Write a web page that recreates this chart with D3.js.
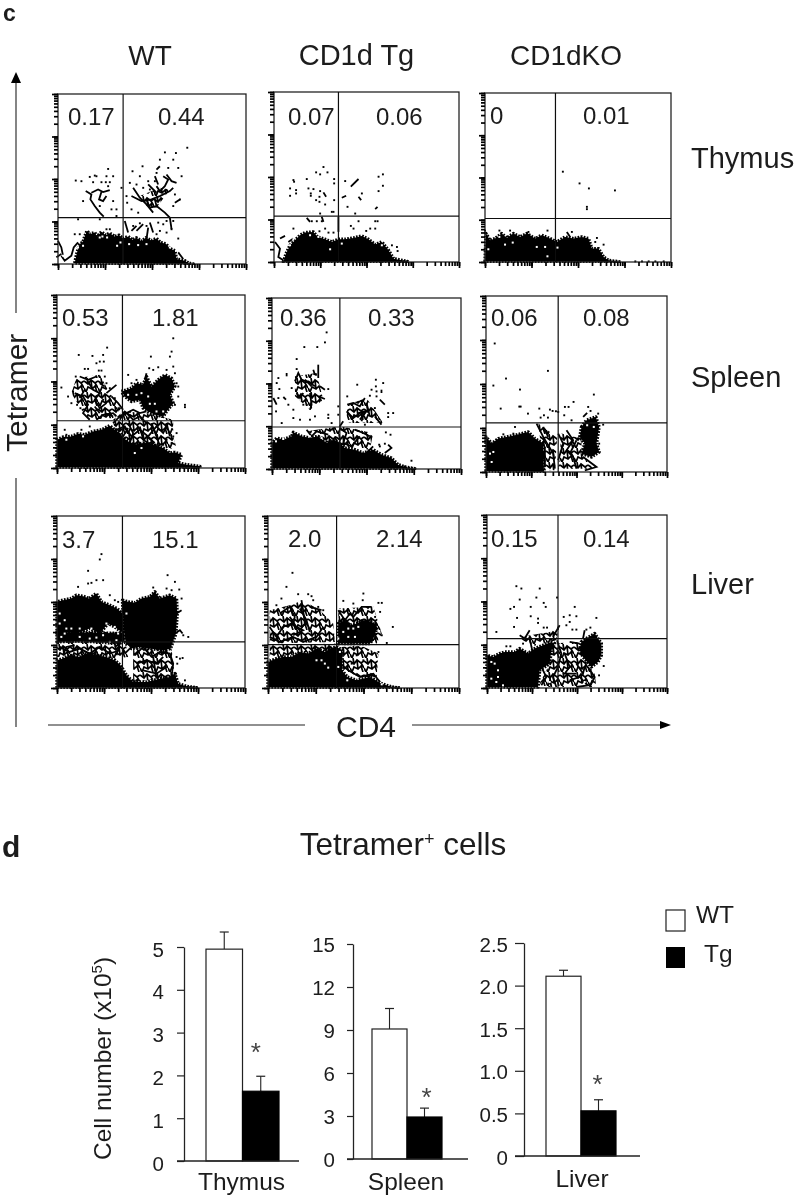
<!DOCTYPE html>
<html><head><meta charset="utf-8">
<script src="https://cdn.jsdelivr.net/npm/d3@7"></script>
<style>html,body{margin:0;padding:0;background:#fff}svg{display:block}text{font-family:"Liberation Sans",Arial,sans-serif;fill:#1c1c1c}</style>
</head><body><div id="c"></div>
<script>
const columns=["WT","CD1d Tg","CD1dKO"], organs=["Thymus","Spleen","Liver"];
const gateValues=[["0.17","0.44"],["0.07","0.06"],["0","0.01"],["0.53","1.81"],["0.36","0.33"],["0.06","0.08"],["3.7","15.1"],["2.0","2.14"],["0.15","0.14"]];

// Flow-cytometry populations, as channel readings (x, y) on each plot's digitising grid.
const wtThymusBlobs=[[[225,792],[232,760],[240,735],[250,728],[255,712],[262,695],[270,705],[285,700],[292,712],[305,698],[318,708],[330,702],[345,712],[358,708],[370,718],[385,712],[398,722],[410,716],[425,726],[438,716],[455,724],[470,718],[482,730],[498,734],[510,748],[525,755],[530,780],[555,785],[565,792],[580,795]]];
const wtThymusLace=[[[420,590],[480,565],[510,570],[470,625],[440,620]]];
const wtThymusSpecks=[[352,740],[362,730],[388,735],[322,715],[308,712],[235,745],[510,745],[415,738],[250,740],[190,770],[440,735],[300,715]];
const wtThymusStrokes=[[[258,575],[275,585],[272,600],[285,620],[300,640],[312,652]],[[275,580],[295,570],[310,578],[330,572]],[[305,578],[298,600],[310,605],[320,590]],[[400,565],[420,595],[440,615],[460,640]],[[395,590],[425,605],[455,600],[480,590],[510,575],[520,565]],[[440,600],[450,625],[470,620],[465,600]],[[470,560],[480,575],[495,560],[505,540],[490,530]],[[500,525],[515,545],[530,550]],[[470,510],[480,500]],[[475,555],[465,530]],[[525,610],[540,600]],[[470,620],[495,640],[510,655]],[[445,555],[470,580]],[[395,695],[410,680]],[[410,695],[430,675]],[[450,670],[460,700]],[[375,665],[385,700]],[[445,685],[440,720]],[[510,655],[515,690]],[[175,725],[185,745],[190,770]],[[185,770],[195,785],[215,770],[222,745],[235,730]],[[170,775],[185,765]],[[535,760],[550,780]]];
const wtThymusDots=[[228,543],[245,545],[270,532],[285,528],[290,530],[325,508],[320,530],[340,530],[280,548],[305,548],[318,548],[330,548],[325,560],[250,605],[340,605],[335,630],[350,630],[300,620],[350,650],[562,444],[528,460],[495,458],[520,480],[480,480],[428,500],[398,515],[470,520],[535,505],[505,505],[420,530],[445,545],[465,545],[390,550],[410,555],[380,590],[382,610],[395,630],[415,640],[365,565],[450,570],[430,565],[540,600],[520,620],[525,585],[545,530],[235,660],[300,660],[320,690],[330,690],[225,705],[240,705],[500,665],[520,665],[475,670],[490,675],[515,690],[480,695],[500,700],[535,718],[420,672],[440,680],[400,680],[470,705]];

const wtSpleenBlobs=[[[172,562],[172,480],[190,472],[215,470],[235,462],[255,465],[280,455],[305,450],[330,438],[345,450],[360,460],[375,478],[400,495],[430,490],[460,495],[490,505],[510,520],[525,518],[545,525],[535,550],[560,555],[600,560],[600,565]],[[365,335],[395,325],[410,310],[430,315],[440,290],[455,320],[475,300],[495,285],[515,295],[525,320],[510,345],[520,370],[500,395],[490,410],[465,405],[445,395],[430,385],[420,360],[395,365],[375,350]]];
const wtSpleenLace=[[[230,295],[300,285],[330,340],[365,385],[340,415],[270,420],[245,390],[215,340]],[[340,420],[370,395],[440,400],[520,420],[520,470],[530,505],[480,510],[400,510],[370,480],[345,460]]];
const wtSpleenSpecks=[[385,345],[410,345],[425,340],[450,372],[465,372],[470,395],[490,395],[445,350],[405,520],[425,505],[200,480],[250,470]];
const wtSpleenStrokes=[[[340,430],[360,410],[380,400],[400,420],[420,410],[440,430]],[[350,450],[375,440],[395,470],[420,450],[445,470],[470,440],[490,460],[505,430]],[[385,430],[400,460],[390,490]],[[420,440],[430,480],[460,500]],[[370,470],[385,445]],[[455,430],[470,470],[480,500]],[[500,430],[510,470]],[[350,410],[340,400],[310,405],[290,420]],[[440,470],[465,490]],[[240,290],[265,300],[290,290]],[[225,340],[250,350],[265,375],[250,400],[270,420]],[[265,305],[280,330],[300,340],[285,360],[300,385],[320,370]],[[255,330],[240,355]],[[320,340],[350,315]],[[335,350],[355,370],[370,390]],[[300,310],[315,320]],[[285,380],[300,400]],[[315,400],[340,410]],[[380,400],[400,390],[420,400],[440,395]],[[360,420],[375,395],[395,410]],[[440,280],[435,300]]];
const wtSpleenDots=[[237,225],[322,203],[278,228],[300,245],[312,245],[255,267],[265,267],[297,272],[305,272],[228,290],[315,290],[185,323],[205,350],[220,335],[215,370],[232,375],[242,385],[320,310],[330,325],[345,355],[325,365],[310,360],[350,385],[290,250],[310,225],[520,175],[515,215],[510,230],[453,230],[448,265],[460,270],[475,262],[500,270],[525,280],[385,285],[410,300],[395,310],[535,350],[555,375],[555,382],[525,375],[530,310],[535,320],[520,260],[500,480],[520,470],[530,460],[515,490],[490,495],[200,465],[245,450],[270,440],[195,450]];

const wtLiverBlobs=[[[172,562],[172,480],[190,475],[210,465],[240,470],[260,460],[290,465],[320,470],[345,480],[362,495],[380,525],[400,545],[440,545],[480,535],[510,530],[525,520],[535,550],[560,558],[590,562]],[[172,400],[172,305],[190,300],[215,295],[230,285],[250,288],[268,295],[290,280],[305,305],[330,315],[352,325],[368,340],[372,400],[345,380],[325,370],[300,400],[270,385],[240,395],[205,395]],[[368,300],[385,305],[405,308],[425,295],[450,290],[465,275],[480,295],[495,290],[510,285],[530,295],[532,340],[528,400],[512,445],[490,450],[450,445],[420,440],[395,445],[378,430],[372,380]],[[172,425],[220,422],[300,425],[360,432],[372,400],[172,395]]];
const wtLiverLace=[[[172,395],[372,395],[385,470],[345,475],[172,470]],[[400,445],[515,445],[525,530],[400,545]]];
const wtLiverSpecks=[[180,340],[195,360],[180,370],[200,385],[215,385],[240,385],[275,385],[320,370],[345,380],[380,340],[355,400],[385,440],[310,405],[290,412],[270,415],[240,410],[185,410],[195,400],[330,425],[350,420]];
const wtLiverStrokes=[[[180,440],[210,455],[240,445],[270,460],[300,440],[330,460],[360,450]],[[190,465],[200,440],[225,435]],[[405,465],[430,440],[455,470],[480,455],[510,460],[520,490],[515,530]],[[410,490],[440,480],[470,490],[490,470]],[[430,510],[470,520],[500,500]],[[460,470],[470,535]],[[530,340],[545,330]],[[525,400],[540,390],[548,400]],[[375,460],[395,440]],[[345,440],[360,430],[350,465]]];
const wtLiverDots=[[305,162],[300,178],[265,212],[235,260],[265,250],[290,240],[310,240],[275,248],[330,285],[345,300],[355,305],[460,262],[500,265],[515,270],[545,295],[538,268],[525,245],[503,225],[565,410],[550,405],[530,470],[548,473],[540,475],[532,490],[528,520],[410,540],[440,550],[555,540]];

const tgThymusBlobs=[[[70,530],[78,505],[90,480],[105,465],[120,450],[135,442],[160,440],[172,455],[195,462],[215,470],[235,462],[255,462],[280,458],[305,452],[325,462],[345,478],[365,470],[385,495],[400,520],[440,528],[445,532]]];
const tgThymusLace=[];
const tgThymusSpecks=[[100,462],[150,450],[175,455],[365,480],[210,492],[245,475],[90,480]];
const tgThymusStrokes=[[[60,460],[75,452]],[[45,470],[60,490],[55,515],[70,525]],[[85,470],[100,460]],[[272,305],[295,282]],[[245,338],[258,332]],[[295,335],[303,345]],[[345,372],[352,365]],[[190,322],[198,335]],[[140,398],[150,410]],[[185,395],[190,410]],[[235,395],[235,440]]];
const tgThymusDots=[[190,246],[168,262],[180,268],[202,262],[140,282],[222,282],[222,295],[100,285],[102,290],[90,310],[145,310],[160,312],[108,315],[108,325],[90,332],[152,325],[152,332],[180,318],[178,335],[168,345],[178,350],[195,358],[222,345],[215,380],[220,380],[180,385],[255,288],[368,268],[355,275],[368,302],[355,318],[305,325],[262,365],[285,385],[295,408],[280,430],[345,408],[352,408],[345,430],[330,430],[318,437],[272,422],[155,408],[170,408],[185,408],[195,430],[205,442],[220,442],[100,430],[410,485],[395,480],[412,497],[178,438]];

const tgSpleenBlobs=[[[36,535],[36,460],[50,445],[70,450],[95,440],[100,428],[125,440],[150,445],[175,440],[200,460],[220,450],[240,460],[255,475],[285,480],[310,490],[340,480],[365,495],[395,505],[415,525],[440,533],[465,537]]];
const tgSpleenLace=[[[105,260],[170,250],[190,330],[150,360],[105,320]],[[262,345],[320,325],[370,400],[260,400]],[[140,425],[240,410],[340,430],[330,480],[230,470]]];
const tgSpleenSpecks=[[48,455],[70,448],[150,440],[185,445]];
const tgSpleenStrokes=[[[105,275],[115,250],[125,270],[150,280],[165,290]],[[135,270],[155,290]],[[110,310],[120,325],[130,310]],[[150,310],[155,345],[150,360]],[[175,320],[195,328]],[[160,240],[165,255]],[[175,225],[175,265]],[[180,290],[195,300]],[[80,250],[80,260]],[[70,322],[78,330]],[[40,325],[50,345]],[[262,345],[280,340],[300,350],[315,325]],[[260,365],[280,385],[300,370],[320,365],[300,390]],[[345,380],[365,405]],[[360,330],[375,345]],[[320,340],[330,380]],[[250,395],[240,410]],[[295,370],[315,365],[305,395]],[[365,300],[365,310]],[[240,415],[260,430],[250,460],[275,470],[300,440]],[[140,420],[155,440],[170,425],[205,435]],[[285,420],[310,430],[330,440]],[[340,470],[320,490]],[[385,465],[395,475],[375,490]],[[225,440],[240,480]]];
const tgSpleenDots=[[200,128],[195,158],[133,172],[172,172],[110,208],[110,238],[55,265],[50,280],[95,295],[205,298],[58,298],[55,325],[85,345],[100,360],[130,345],[140,345],[100,385],[120,390],[65,400],[48,365],[165,380],[205,375],[205,385],[215,400],[150,390],[292,285],[348,270],[370,280],[348,290],[335,300],[350,305],[330,318],[350,320],[262,320],[345,355],[385,370],[400,370],[385,382],[235,350],[235,375],[270,378],[315,405],[378,428],[392,435],[358,465],[295,490],[228,478],[360,470],[375,462],[455,513],[435,530],[220,420]];

const tgLiverBlobs=[[[25,530],[25,455],[50,445],[70,440],[95,440],[120,425],[145,430],[170,415],[195,425],[210,415],[230,410],[248,420],[246,480],[262,500],[290,510],[330,500],[365,520],[395,530],[420,535]],[[235,340],[255,330],[270,345],[290,340],[310,330],[335,335],[350,350],[345,375],[330,400],[300,400],[270,400],[235,400]]];
const tgLiverLace=[[[30,300],[90,285],[130,270],[180,300],[220,340],[225,395],[30,400]],[[235,295],[340,290],[365,370],[350,400],[235,400]],[[30,405],[240,400],[220,430],[130,425],[30,450]],[[245,410],[300,405],[355,430],[350,500],[300,500],[250,480]]];
const tgLiverSpecks=[[250,365],[265,355],[280,355],[295,350],[285,380],[265,380],[235,385],[245,405],[240,425],[290,405],[170,450],[185,450],[195,460],[205,472],[235,470],[262,510],[365,522]];
const tgLiverStrokes=[[[30,350],[50,380],[70,350],[95,340],[120,360],[135,340],[130,300],[125,270]],[[60,310],[90,290],[105,320],[100,345]],[[120,295],[140,330],[150,365]],[[30,380],[60,395],[100,380],[130,395],[170,380],[190,350]],[[150,290],[185,300]],[[235,300],[255,330],[270,310],[280,320],[305,290],[335,290]],[[240,460],[265,480],[300,500],[340,490],[360,515]],[[90,320],[110,350],[130,360],[100,375]]];
const tgLiverDots=[[98,188],[80,230],[115,252],[145,252],[155,258],[160,270],[65,265],[50,285],[310,250],[308,270],[250,272],[280,280],[355,278],[365,278],[398,350],[360,305],[345,320],[365,375],[380,398],[355,425],[310,450],[275,460],[290,435],[175,290],[190,300]];

const koThymusBlobs=[[[45,528],[48,445],[60,465],[75,460],[95,445],[110,458],[130,445],[150,455],[170,445],[195,460],[215,450],[240,460],[260,470],[285,455],[310,460],[335,455],[355,460],[365,490],[385,490],[400,515],[415,525],[450,530],[452,533]]];
const koThymusLace=[];
const koThymusSpecks=[[55,492],[105,478],[128,472],[200,485],[225,485],[232,513],[262,487],[88,455]];
const koThymusStrokes=[[[290,440],[300,455]],[[170,445],[185,458]]];
const koThymusDots=[[278,260],[328,295],[356,310],[434,316],[350,365],[350,372],[88,436],[120,436],[175,440],[232,436],[380,458],[400,478],[375,470],[305,440],[495,528],[515,528],[535,528],[555,528],[580,528],[45,436]];

const koSpleenBlobs=[[[48,572],[48,470],[65,490],[85,475],[110,470],[135,465],[155,460],[175,455],[195,475],[220,490],[222,575]],[[335,440],[350,420],[378,410],[388,440],[380,490],[388,515],[365,530],[335,520],[345,490],[330,470]]];
const koSpleenLace=[[[205,430],[262,470],[255,570],[222,570]],[[275,460],[335,475],[335,520],[370,565],[265,565]]];
const koSpleenSpecks=[[352,435],[372,440],[60,520],[70,515],[65,545]];
const koSpleenStrokes=[[[48,480],[60,510],[55,540],[70,570]],[[200,430],[220,470],[250,520],[255,565]],[[220,440],[235,470]],[[290,450],[310,480],[290,510],[310,530],[320,565]],[[320,480],[300,520]],[[225,500],[225,560]],[[340,530],[380,560],[345,570]],[[265,460],[280,490],[265,540]],[[340,410],[352,398]]];
const koSpleenDots=[[74,190],[234,272],[108,295],[70,316],[150,328],[372,343],[92,385],[148,379],[152,379],[208,385],[174,400],[240,388],[248,392],[258,393],[265,395],[285,380],[296,380],[311,365],[355,380],[362,392],[385,400],[283,405],[305,420],[212,412],[222,405],[234,412],[135,440],[100,462],[130,460],[400,433],[388,490]];

const koLiverBlobs=[[[52,530],[52,435],[70,440],[90,430],[105,425],[135,425],[150,415],[175,430],[195,415],[220,405],[245,395],[255,400],[245,420],[240,460],[210,480],[205,530]],[[335,395],[350,385],[375,370],[395,400],[395,435],[385,455],[365,470],[340,440],[330,420]]];
const koLiverLace=[[[240,400],[330,395],[340,440],[375,490],[380,530],[205,530],[240,460]],[[150,380],[240,365],[270,345],[260,390],[180,410]]];
const koLiverSpecks=[[65,455],[75,460],[85,480],[85,500],[65,505],[80,515],[100,525],[240,515],[345,515]];
const koLiverStrokes=[[[262,390],[275,430],[265,470],[250,500],[260,530]],[[285,430],[300,470],[285,490],[320,490]],[[300,510],[330,500],[355,525],[320,530]],[[320,460],[340,490],[345,470]],[[215,470],[230,500],[215,525]],[[240,500],[245,530]],[[355,470],[375,500],[360,530]],[[180,385],[190,430]],[[150,375],[165,385],[180,360]],[[250,380],[270,345]],[[340,385],[345,360]],[[300,395],[330,400]]];
const koLiverDots=[[140,228],[155,235],[210,235],[150,268],[200,262],[222,278],[262,262],[228,290],[183,290],[133,290],[122,296],[315,290],[142,323],[183,318],[205,325],[205,338],[133,350],[222,352],[232,352],[80,365],[282,320],[300,315],[320,318],[380,323],[300,335],[290,345],[308,358],[320,358],[350,358],[362,352],[402,467],[388,495],[110,408],[122,408],[160,400]];

const populations=[
 [wtThymusBlobs,wtThymusSpecks,wtThymusStrokes,wtThymusDots,wtThymusLace],[tgThymusBlobs,tgThymusSpecks,tgThymusStrokes,tgThymusDots,tgThymusLace],[koThymusBlobs,koThymusSpecks,koThymusStrokes,koThymusDots,koThymusLace],
 [wtSpleenBlobs,wtSpleenSpecks,wtSpleenStrokes,wtSpleenDots,wtSpleenLace],[tgSpleenBlobs,tgSpleenSpecks,tgSpleenStrokes,tgSpleenDots,tgSpleenLace],[koSpleenBlobs,koSpleenSpecks,koSpleenStrokes,koSpleenDots,koSpleenLace],
 [wtLiverBlobs,wtLiverSpecks,wtLiverStrokes,wtLiverDots,wtLiverLace],[tgLiverBlobs,tgLiverSpecks,tgLiverStrokes,tgLiverDots,tgLiverLace],[koLiverBlobs,koLiverSpecks,koLiverStrokes,koLiverDots,koLiverLace]];
// digitising-grid limits and gates for each plot: left,right,bottom,top,gateX,gateY
const gridLimits=[[175,738,795,282,370,655],[42,596,530,22,235,393],[45,602,530,25,256,400],[172,735,565,45,368,423],[36,604,538,25,240,412],[48,592,575,48,265,428],[172,735,563,48,368,425],[25,596,533,18,230,403],[52,592,533,15,265,385]];

// Bar chart values
const barOrgans=["Thymus","Spleen","Liver"], barGroups=["WT","Tg"];
const barWT=[4.95,9.07,2.11], barTg=[1.63,2.93,0.53];
const errWT=[5.35,10.5,2.18], errTg=[1.98,3.55,0.66];
const starValue=[2.59,4.47,0.87];
const barMax=[5,15,2.5];
const barTicks=[[0,1,2,3,4,5],[0,3,6,9,12,15],[0,0.5,1,1.5,2,2.5]];
const barTickLabels=[["0","1","2","3","4","5"],["0","3","6","9","12","15"],["0","0.5","1.0","1.5","2.0","2.5"]];

// layout
const W=797,H=1199;
const frames=[[58,246,264,94],[274,459,262,92],[485,671,262,93],[57,245,468,295],[272,461,469,298],[486,667,472,296],[57,245,688,516],[268,459,688,516],[487,667,688,515]];
const gateLabelAt=[[68,158,125],[288,376,125],[490,583,124],[62,152,326],[280,368,326],[491,583,326],[62,152,548],[288,376,547],[491,583,547]];
const barFrames=[{x0:184,y0:1161,yT:947,bL:206,bR:279,end:299,tick:7,pad:13,cx:241.5,ldy:2.5,sx:-5,by:1190},{x0:353,y0:1159,yT:944,bL:372,bR:442,end:468,tick:6,pad:12,cx:406,ldy:0.5,sx:2,by:1190},{x0:524,y0:1156,yT:943,bL:546,bR:616,end:640,tick:9,pad:7,cx:582,ldy:1.5,sx:-1,by:1187}];

const svg=d3.select("#c").append("svg").attr("width",W).attr("height",H).attr("viewBox",[0,0,W,H]);
svg.append("rect").attr("width",W).attr("height",H).attr("fill","#fff");
const defs=svg.append("defs");
const soft=defs.append("filter").attr("id","soft").attr("x","-5%").attr("y","-5%").attr("width","110%").attr("height","110%");
soft.append("feGaussianBlur").attr("stdDeviation",0.35);
const pat=defs.append("pattern").attr("id","lace").attr("patternUnits","userSpaceOnUse").attr("width",14).attr("height",14);
pat.append("path").attr("d","M0 3L4 6L7 2L11 5L14 3M2 14L4 9L8 11L11 8L13 14M7 2L8 11M0 10L2 14M11 5L14 10M4 6L3 0").attr("fill","none").attr("stroke","#000").attr("stroke-width",1.7);
const root=svg.append("g").attr("filter","url(#soft)");
const txt=(x,y,s,size,o={})=>{const t=root.append("text").attr("x",x).attr("y",y).attr("font-size",size).attr("text-anchor",o.anchor||"start").attr("font-weight",o.weight||null).text(s);if(o.rotate)t.attr("transform",`rotate(-90 ${x} ${y})`);return t;};

// Panel letters and headers
txt(3,21,"c",23,{weight:"bold"}); txt(2,857,"d",30,{weight:"bold"});
[[150,columns[0],28],[356.5,columns[1],29],[566,columns[2],28]].forEach(([x,s,z])=>txt(x,65,s,z,{anchor:"middle"}));
[[168,organs[0]],[387,organs[1]],[594,organs[2]]].forEach(([y,s])=>txt(691,y,s,29));

// Dot plots
const minorTicks=d3.range(0,4).flatMap(k=>d3.range(1,10).map(m=>m*Math.pow(10,k))).concat([10000]);
const majorTicks=[1,10,100,1000,10000];
frames.forEach((f,i)=>{
 const [L,R,B,T,gx,gy]=gridLimits[i], [left,right,bottom,top]=f;
 const x=d3.scaleLinear().domain([L,R]).range([left,right]);
 const y=d3.scaleLinear().domain([B,T]).range([bottom,top]);
 const [blobs,specks,strokes,dots,laces]=populations[i];
 const g=root.append("g");
 const line=d3.line().x(d=>x(d[0])).y(d=>y(Math.min(d[1],B)));
 g.selectAll(".l").data(laces).join("path").attr("d",d=>line(d)+"Z").attr("fill","url(#lace)");
 g.selectAll(".b").data(blobs).join("path").attr("d",d=>line(d)+"Z").attr("fill","#000").attr("stroke","#000").attr("stroke-width",3.4).attr("stroke-dasharray","1.7 1.3").attr("stroke-linejoin","round");
 g.selectAll(".st").data(strokes).join("path").attr("d",line).attr("fill","none").attr("stroke","#000").attr("stroke-width",1.8);
 g.selectAll(".sp").data(specks).join("rect").attr("x",d=>x(d[0])-1).attr("y",d=>y(d[1])-1).attr("width",2).attr("height",2).attr("fill","#fff");
 g.selectAll(".d").data(dots).join("rect").attr("x",d=>x(d[0])-.9).attr("y",d=>y(d[1])-.9).attr("width",1.9).attr("height",1.9).attr("fill","#000");
 // mask anything under the plot's base, then frame and gates
 g.append("rect").attr("x",left-1).attr("y",bottom+1).attr("width",right-left+6).attr("height",4).attr("fill","#fff");
 g.append("rect").attr("x",left).attr("y",top).attr("width",right-left).attr("height",bottom-top).attr("fill","none").attr("stroke","#222").attr("stroke-width",1.3);
 g.append("line").attr("x1",x(gx)).attr("x2",x(gx)).attr("y1",top).attr("y2",bottom).attr("stroke","#111").attr("stroke-width",1.2);
 g.append("line").attr("x1",left).attr("x2",right).attr("y1",y(gy)).attr("y2",y(gy)).attr("stroke","#111").attr("stroke-width",1.2);
 // log axes
 const lx=d3.scaleLog().domain([1,10000]).range([left,right]);
 const ly=d3.scaleLog().domain([1,10000]).range([bottom,top]);
 const style=a=>{a.select(".domain").remove();a.selectAll("text").remove();a.selectAll("line").attr("stroke","#000").attr("stroke-width",1.7);};
 g.append("g").attr("transform",`translate(${left},0)`).call(d3.axisLeft(ly).tickValues(minorTicks).tickSize(4).tickFormat("")).call(style);
 g.append("g").attr("transform",`translate(${left},0)`).call(d3.axisLeft(ly).tickValues(majorTicks).tickSize(6).tickFormat("")).call(style);
 g.append("g").attr("transform",`translate(0,${bottom})`).call(d3.axisBottom(lx).tickValues(minorTicks).tickSize(4).tickFormat("")).call(style);
 g.append("g").attr("transform",`translate(0,${bottom})`).call(d3.axisBottom(lx).tickValues(majorTicks).tickSize(6).tickFormat("")).call(style);
 const a=gateLabelAt[i];
 txt(a[0],a[2],gateValues[i][0],24); txt(a[1],a[2],gateValues[i][1],24);
});

// Axis arrows
const ink="#222";
const seg=(x1,y1,x2,y2)=>root.append("line").attr("x1",x1).attr("y1",y1).attr("x2",x2).attr("y2",y2).attr("stroke",ink).attr("stroke-width",1.1);
seg(16,82,16,313); seg(16,478,16,727); seg(48,725,305,725); seg(412,725,661,725);
root.append("polygon").attr("points","16,72 11,83 21,83").attr("fill","#000");
root.append("polygon").attr("points","671,725 660,721 660,729").attr("fill","#000");
txt(27,452,"Tetramer",30,{rotate:true});
txt(366,737,"CD4",30,{anchor:"middle"});

// Title
const tt=txt(403,855,"Tetramer",31.5,{anchor:"middle"});
tt.append("tspan").attr("dy",-10).attr("font-size",18).text("+");
tt.append("tspan").attr("dy",10).text(" cells");

// Bars
barFrames.forEach((b,i)=>{
 const y=d3.scaleLinear().domain([0,barMax[i]]).range([b.y0,b.yT]);
 const x=d3.scaleBand().domain(barGroups).range([b.bL,b.bR]);
 const g=root.append("g");
 const ax=g.append("g").attr("transform",`translate(${b.x0},0)`).call(d3.axisLeft(y).tickValues(barTicks[i]).tickSize(b.tick).tickSizeOuter(0).tickPadding(b.pad).tickFormat((d,j)=>barTickLabels[i][j]));
 ax.selectAll("line").attr("stroke",ink).attr("stroke-width",1.2);
 ax.select(".domain").attr("stroke",ink).attr("stroke-width",1.3);
 ax.selectAll("text").attr("font-size",20.5).attr("font-family",'"Liberation Sans"').attr("fill","#1c1c1c").attr("transform",`translate(0,${b.ldy})`);
 const vals=[barWT[i],barTg[i]], errs=[errWT[i],errTg[i]];
 barGroups.forEach((k,j)=>{
  g.append("line").attr("x1",x(k)+x.bandwidth()/2).attr("x2",x(k)+x.bandwidth()/2).attr("y1",y(vals[j])).attr("y2",y(errs[j])).attr("stroke",ink).attr("stroke-width",1.1);
  g.append("line").attr("x1",x(k)+x.bandwidth()/2-4.5).attr("x2",x(k)+x.bandwidth()/2+4.5).attr("y1",y(errs[j])).attr("y2",y(errs[j])).attr("stroke",ink).attr("stroke-width",1.2);
  g.append("rect").attr("x",x(k)).attr("y",y(vals[j])).attr("width",x.bandwidth()).attr("height",y(0)-y(vals[j])).attr("fill",j?"#000":"#fff").attr("stroke",j?"#000":ink).attr("stroke-width",1.2);
 });
 g.append("line").attr("x1",b.x0-b.tick).attr("x2",b.end).attr("y1",y(0)).attr("y2",y(0)).attr("stroke",ink).attr("stroke-width",1.4);
 txt(x("Tg")+x.bandwidth()/2+b.sx,y(starValue[i])+11,"*",26,{anchor:"middle"}).style("fill","#444");
 txt(b.cx,b.by,barOrgans[i],24.5,{anchor:"middle"});
});
const yl=txt(111,1160,"Cell number (x10",24.5,{rotate:true});
yl.append("tspan").attr("dy",-9).attr("font-size",15).text("5");
yl.append("tspan").attr("dy",9).text(")");

// Legend
root.append("rect").attr("x",666).attr("y",910).attr("width",19).attr("height",21).attr("fill","#fff").attr("stroke",ink).attr("stroke-width",1.2);
root.append("rect").attr("x",666).attr("y",947).attr("width",19).attr("height",21).attr("fill","#000");
txt(696,923,barGroups[0],24.5); txt(704,962,barGroups[1],24.5);
</script></body></html>
